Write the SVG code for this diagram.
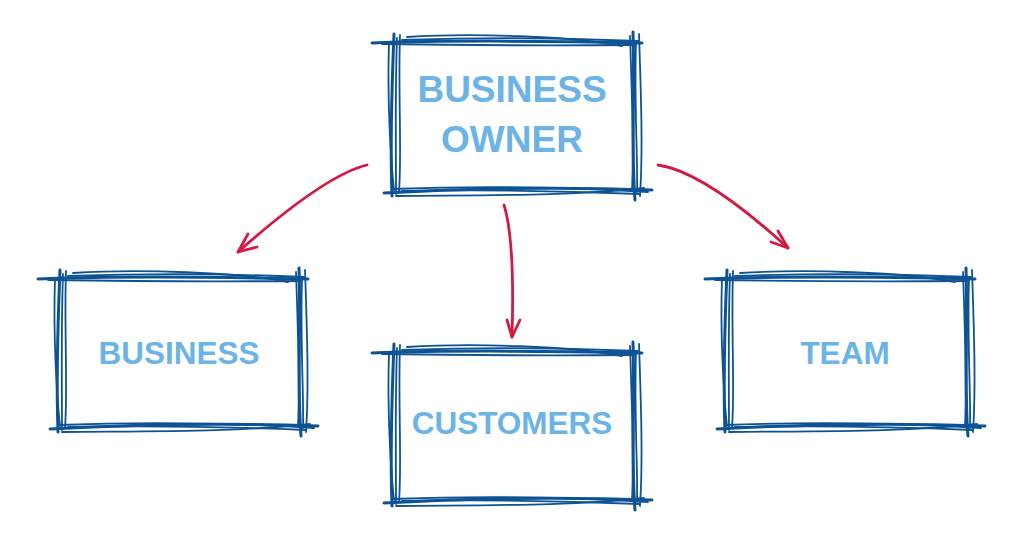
<svg xmlns="http://www.w3.org/2000/svg" xmlns:xlink="http://www.w3.org/1999/xlink" width="1024" height="538" viewBox="0 0 1024 538">
<style>
.s1{fill:none;stroke:#0d5394;stroke-width:3;stroke-linecap:round}
.s2{fill:none;stroke:#0d5394;stroke-width:1.8;stroke-linecap:round}
.lbl{font-family:"Liberation Sans",Arial,sans-serif;font-weight:bold;fill:#6cb4e6;text-anchor:middle}
.arr{fill:none;stroke:#d21a43;stroke-width:2.8;stroke-linecap:round;stroke-linejoin:round}
</style>
<defs>
<g id="sketch">
<path class="s1" d="M0,11 C80,8 180,9 270,11"/>
<path class="s2" d="M35,5 C100,1 200,4 250,14"/>
<path class="s2" d="M30,8 Q150,4 266,9"/>
<path class="s2" d="M10,12 Q140,14 262,13"/>
<path class="s1" d="M22,2 C20,50 18,110 20,164"/>
<path class="s2" d="M28,3 C26,60 30,120 27,160"/>
<path class="s2" d="M17,10 C15,70 19,130 22,158"/>
<path class="s2" d="M25,6 C23,60 24,120 24,162"/>
<path class="s1" d="M261,0 C263,60 259,120 263,168"/>
<path class="s2" d="M267,2 C269,60 271,120 268,164"/>
<path class="s2" d="M264,10 C262,70 266,130 265,160"/>
<path class="s2" d="M258,4 C260,60 262,120 260,158"/>
<path class="s1" d="M12,161 C100,156 200,155 280,158"/>
<path class="s2" d="M24,164 C120,163 200,164 272,156"/>
<path class="s2" d="M20,157 Q150,152 276,160"/>
<path class="s2" d="M30,159 Q150,157 268,162"/>
</g>
</defs>
<rect width="1024" height="538" fill="#ffffff"/>
<g id="connectors">
<path class="arr" d="M367,165 Q325,175 238,252"/>
<path class="arr" d="M248,234 L238,252 L257,247"/>
<path class="arr" d="M504,205 Q515,240 512,337"/>
<path class="arr" d="M507,320 L512,337 L520,320"/>
<path class="arr" d="M658,165 Q705,172 788,248"/>
<path class="arr" d="M778,231 L788,248 L771,242"/>
</g>
<g id="owner">
<use xlink:href="#sketch" x="372" y="32"/>
<text class="lbl" x="512" y="102" font-size="37">BUSINESS</text>
<text class="lbl" x="512" y="152" font-size="37">OWNER</text>
</g>
<g id="business">
<use xlink:href="#sketch" x="38" y="268"/>
<text class="lbl" x="179" y="364" font-size="31.5">BUSINESS</text>
</g>
<g id="customers">
<use xlink:href="#sketch" x="372" y="342"/>
<text class="lbl" x="512" y="434" font-size="31.5">CUSTOMERS</text>
</g>
<g id="team">
<use xlink:href="#sketch" x="705" y="268"/>
<text class="lbl" x="845" y="364" font-size="31.5">TEAM</text>
</g>
</svg>
